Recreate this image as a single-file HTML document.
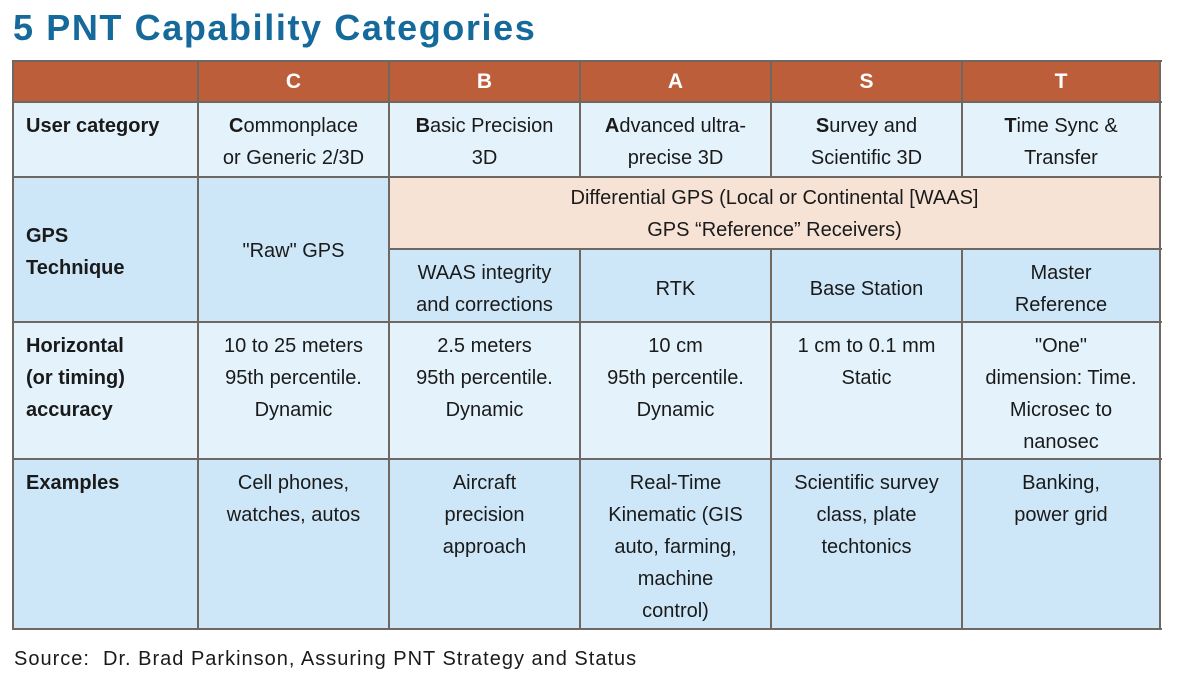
<!DOCTYPE html>
<html><head><meta charset="utf-8"><style>
body{margin:0;width:1182px;height:694px;background:#fff;position:relative;overflow:hidden;font-family:"Liberation Sans",sans-serif;}
.t{position:absolute;left:13px;top:7px;font-size:36px;font-weight:bold;color:#156a9b;letter-spacing:1.6px;}
.c{position:absolute;box-sizing:border-box;}
.x{position:absolute;text-align:center;font-size:20px;line-height:32px;color:#1a1a1a;}
.l{position:absolute;text-align:left;font-size:20px;line-height:32px;font-weight:bold;color:#1a1a1a;}
.h{position:absolute;text-align:center;font-size:21px;font-weight:bold;color:#fff;line-height:32px;}
.v{position:absolute;background:#6e6762;}
</style></head><body>
<div class="t">5 PNT Capability Categories</div>
<div class="c" style="left:13px;top:61px;width:1147px;height:41px;background:#bc5e3a"></div>
<div class="c" style="left:13px;top:102px;width:1147px;height:75px;background:#e3f2fb"></div>
<div class="c" style="left:13px;top:177px;width:1147px;height:145px;background:#cde6f8"></div>
<div class="c" style="left:389px;top:177px;width:771px;height:72px;background:#f6e3d6"></div>
<div class="c" style="left:13px;top:322px;width:1147px;height:137px;background:#e3f2fb"></div>
<div class="c" style="left:13px;top:459px;width:1147px;height:170px;background:#cde6f8"></div>
<div class="v" style="left:12px;top:60px;width:1150px;height:2px"></div>
<div class="v" style="left:12px;top:101px;width:1150px;height:2px"></div>
<div class="v" style="left:12px;top:176px;width:1150px;height:2px"></div>
<div class="v" style="left:389px;top:248px;width:773px;height:2px"></div>
<div class="v" style="left:12px;top:321px;width:1150px;height:2px"></div>
<div class="v" style="left:12px;top:458px;width:1150px;height:2px"></div>
<div class="v" style="left:12px;top:628px;width:1150px;height:2px"></div>
<div class="v" style="left:12px;top:60px;width:2px;height:570px"></div>
<div class="v" style="left:197px;top:60px;width:2px;height:570px"></div>
<div class="v" style="left:388px;top:60px;width:2px;height:570px"></div>
<div class="v" style="left:579px;top:60px;width:2px;height:117px"></div>
<div class="v" style="left:770px;top:60px;width:2px;height:117px"></div>
<div class="v" style="left:961px;top:60px;width:2px;height:117px"></div>
<div class="v" style="left:579px;top:248px;width:2px;height:382px"></div>
<div class="v" style="left:770px;top:248px;width:2px;height:382px"></div>
<div class="v" style="left:961px;top:248px;width:2px;height:382px"></div>
<div class="v" style="left:1159px;top:60px;width:2px;height:570px"></div>
<div class="h" style="left:198px;width:191px;top:66px">C</div>
<div class="h" style="left:389px;width:191px;top:66px">B</div>
<div class="h" style="left:580px;width:191px;top:66px">A</div>
<div class="h" style="left:771px;width:191px;top:66px">S</div>
<div class="h" style="left:962px;width:198px;top:66px">T</div>
<div class="l" style="left:26px;top:110px">User category</div>
<div class="x" style="left:198px;width:191px;top:110px"><b>C</b>ommonplace<br>or Generic 2/3D</div>
<div class="x" style="left:389px;width:191px;top:110px"><b>B</b>asic Precision<br>3D</div>
<div class="x" style="left:580px;width:191px;top:110px"><b>A</b>dvanced ultra-<br>precise 3D</div>
<div class="x" style="left:771px;width:191px;top:110px"><b>S</b>urvey and<br>Scientific 3D</div>
<div class="x" style="left:962px;width:198px;top:110px"><b>T</b>ime Sync &amp;<br>Transfer</div>
<div class="l" style="left:26px;top:220px">GPS<br>Technique</div>
<div class="x" style="left:198px;width:191px;top:235px">"Raw" GPS</div>
<div class="x" style="left:389px;width:771px;top:182px">Differential GPS (Local or Continental [WAAS]<br>GPS “Reference” Receivers)</div>
<div class="x" style="left:389px;width:191px;top:257px">WAAS integrity<br>and corrections</div>
<div class="x" style="left:580px;width:191px;top:273px">RTK</div>
<div class="x" style="left:771px;width:191px;top:273px">Base Station</div>
<div class="x" style="left:962px;width:198px;top:257px">Master<br>Reference</div>
<div class="l" style="left:26px;top:330px">Horizontal<br>(or timing)<br>accuracy</div>
<div class="x" style="left:198px;width:191px;top:330px">10 to 25 meters<br>95th percentile.<br>Dynamic</div>
<div class="x" style="left:389px;width:191px;top:330px">2.5 meters<br>95th percentile.<br>Dynamic</div>
<div class="x" style="left:580px;width:191px;top:330px">10 cm<br>95th percentile.<br>Dynamic</div>
<div class="x" style="left:771px;width:191px;top:330px">1 cm to 0.1 mm<br>Static</div>
<div class="x" style="left:962px;width:198px;top:330px">"One"<br>dimension: Time.<br>Microsec to<br>nanosec</div>
<div class="l" style="left:26px;top:467px">Examples</div>
<div class="x" style="left:198px;width:191px;top:467px">Cell phones,<br>watches, autos</div>
<div class="x" style="left:389px;width:191px;top:467px">Aircraft<br>precision<br>approach</div>
<div class="x" style="left:580px;width:191px;top:467px">Real-Time<br>Kinematic (GIS<br>auto, farming,<br>machine<br>control)</div>
<div class="x" style="left:771px;width:191px;top:467px">Scientific survey<br>class, plate<br>techtonics</div>
<div class="x" style="left:962px;width:198px;top:467px">Banking,<br>power grid</div>
<div class="x" style="left:14px;top:643px;text-align:left;font-size:20px;letter-spacing:1px">Source:&nbsp; Dr. Brad Parkinson, Assuring PNT Strategy and Status</div>
</body></html>
